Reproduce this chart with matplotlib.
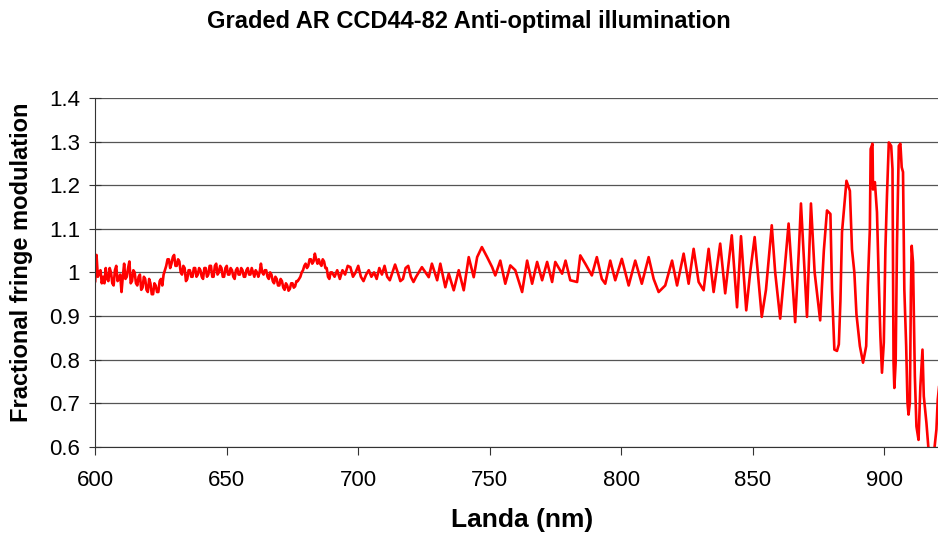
import matplotlib
matplotlib.use("Agg")
import matplotlib.pyplot as plt
import numpy as np

plt.rcParams['font.family'] = ['Liberation Sans', 'DejaVu Sans']

# noisy flat part, sampled every 0.5 nm from 600 to 689.5 nm
landa_flat = np.arange(600, 690, 0.5)
mod_flat = [0.98, 1.04, 0.99, 1.0, 1.005, 0.975, 0.99, 0.975, 1.01, 0.985,
            0.98, 1.01, 1.0, 0.975, 0.97, 1.005, 1.015, 0.98, 0.985, 0.995,
            0.955, 0.99, 1.02, 0.985, 0.99, 1.01, 1.025, 0.975, 0.98, 1.005,
            1.0, 0.975, 0.97, 0.99, 0.995, 0.96, 0.965, 0.99, 0.985, 0.96,
            0.955, 0.985, 0.975, 0.95, 0.95, 0.975, 0.97, 0.955, 0.955, 0.98,
            0.985, 0.97, 0.995, 1.005, 1.015, 1.03, 1.03, 1.01, 1.02, 1.035,
            1.04, 1.015, 1.015, 1.03, 1.025, 1.0, 0.995, 1.015, 1.01, 0.98,
            0.985, 1.005, 1.005, 0.99, 0.99, 1.01, 1.01, 0.99, 0.995, 1.01,
            1.005, 0.99, 0.985, 1.01, 1.01, 0.99, 0.995, 1.015, 1.015, 0.99,
            0.99, 1.015, 1.02, 0.995, 1.0, 1.015, 1.01, 0.99, 0.99, 1.01,
            1.015, 0.995, 0.995, 1.01, 1.005, 0.99, 0.985, 1.005, 1.01, 0.995,
            0.995, 1.01, 1.005, 0.99, 0.99, 1.005, 1.01, 0.995, 0.995, 1.01,
            1.0, 0.99, 1.005, 1.0, 0.99, 1.0, 1.02, 1.0, 0.995, 1.005,
            1.005, 0.99, 0.985, 1.0, 0.995, 0.98, 0.975, 0.99, 0.985, 0.97,
            0.97, 0.985, 0.98, 0.965, 0.96, 0.975, 0.97, 0.958, 0.962, 0.975,
            0.975, 0.965, 0.968, 0.98, 0.98, 0.985, 0.99, 1.0, 1.005, 1.015,
            1.02, 1.01, 1.015, 1.03, 1.03, 1.02, 1.025, 1.043, 1.03, 1.02,
            1.03, 1.02, 1.015, 1.03, 1.025, 1.01, 1.01, 0.99, 0.985, 1.0]

# fringe part, 690 nm onwards (peaks and troughs)
landa_fringe = [690, 691, 692, 693, 694, 695, 696, 697, 698, 699, 700, 701, 702, 703,
                704, 705, 706, 707, 708, 709, 710, 711, 712, 713, 714, 715, 716, 717,
                718, 719, 720, 721, 722,
                724.2, 726.8, 728, 730, 731.2, 733.1, 734.4, 736.3, 738.2, 740.1, 742,
                743.9, 745.2, 747, 749, 750.9, 752.1, 754, 755.9, 757.8, 759.7, 762.3,
                764.2, 766.1, 768, 769.9, 771.8, 773.7, 774.9, 777.5, 778.8, 780.6, 783.2,
                784.4, 786.3, 788.8, 790.7, 792.6, 793.9, 795.8, 797.7, 800.2, 802.8,
                805.3, 807.8, 810.4, 812.3, 814.2, 816.7, 819.3, 821.2, 823.7, 825.6,
                827.5, 829.4, 831.3, 833.2, 835.1, 837.6, 839.5, 842, 844, 845.5, 847.5,
                849, 850.7, 853.4, 855, 857.2, 858.5, 860.4, 862, 863.6, 866.1, 867.5,
                868.3, 870.6, 872.1, 873.5, 875.6, 877, 878.2, 879.5, 880.1, 881, 882,
                882.7, 883.3, 883.9, 884.8, 885.6, 886.9, 887.7, 888.6, 889.4, 890.7,
                891.9, 893.1, 893.7, 894.5, 894.8, 895.5, 895.7, 896.4, 897.2, 897.9,
                898.5, 899.1, 899.8, 900.4, 901, 901.7, 902.6, 903.1, 903.5, 903.8,
                904.3, 904.8, 905.5, 906.1, 906.6, 907.1, 907.6, 908.3, 908.8, 909.2,
                909.7, 910.1, 910.4, 910.9, 911.6, 912.2, 913, 913.7, 914.5, 915, 916,
                916.8, 917.3, 919, 919.8, 920.3, 921]
mod_fringe = [1.0, 0.99, 1.005, 0.985, 1.005, 0.995, 1.015, 1.012, 0.99, 1.0, 1.015, 0.99,
              0.98, 0.995, 1.005, 0.99, 1.0, 0.985, 1.01, 0.995, 1.015, 0.99, 0.982, 1.0,
              1.018, 1.0, 0.98, 0.985, 1.01, 1.015, 0.99, 0.978, 0.99,
              1.012, 0.989, 1.02, 0.982, 1.02, 0.966, 0.997, 0.959, 1.005, 0.959, 1.035,
              0.989, 1.035, 1.058, 1.035, 1.012, 0.993, 1.027, 0.974, 1.016, 1.005, 0.955,
              1.027, 0.974, 1.024, 0.982, 1.024, 0.978, 1.024, 0.997, 1.027, 0.982, 0.978,
              1.039, 1.02, 0.993, 1.035, 0.985, 0.974, 1.027, 0.982, 1.031, 0.970,
              1.027, 0.974, 1.035, 0.985, 0.955, 0.970, 1.027, 0.970, 1.043, 0.974,
              1.054, 0.978, 0.959, 1.054, 0.955, 1.066, 0.952, 1.085, 0.92, 1.083, 0.913,
              1.0, 1.081, 0.898, 0.96, 1.108, 1.0, 0.894, 1.0, 1.112, 0.886, 1.05,
              1.158, 0.898, 1.158, 1.0, 0.89, 1.05, 1.142, 1.134, 0.961, 0.823, 0.82,
              0.835, 0.934, 1.092, 1.153, 1.21, 1.187, 1.053, 1.0, 0.904, 0.831,
              0.793, 0.831, 0.969, 1.1, 1.283, 1.295, 1.19, 1.207, 1.138, 0.977,
              0.854, 0.77, 0.839, 1.053, 1.176, 1.298, 1.29, 1.237, 0.793, 0.735,
              0.793, 1.061, 1.29, 1.295, 1.241, 1.23, 0.961, 0.831, 0.701, 0.674,
              0.701, 0.954, 1.061, 1.023, 0.762, 0.647, 0.616, 0.739, 0.823, 0.716, 0.655,
              0.594, 0.56, 0.594, 0.64, 0.708, 0.75]

landa = list(landa_flat) + landa_fringe
modulation = mod_flat + mod_fringe

fig = plt.figure(figsize=(9.38, 5.41), dpi=100)
ax = fig.add_axes([0.1015, 0.174, 0.8985, 0.645])

ax.plot(landa, modulation, color='#ff0000', linewidth=1.9)

ax.set_xlim(600, 920.4)
ax.set_ylim(0.6, 1.4)
ax.set_xticks([600, 650, 700, 750, 800, 850, 900])
ax.set_yticks([0.6, 0.7, 0.8, 0.9, 1.0, 1.1, 1.2, 1.3, 1.4])
ax.set_yticklabels(['0.6', '0.7', '0.8', '0.9', '1', '1.1', '1.2', '1.3', '1.4'])
ax.grid(axis='y', color='#555555', linewidth=0.9)
ax.set_axisbelow(True)
for s in ['top', 'right']:
    ax.spines[s].set_visible(False)
ax.spines['left'].set_color('#333333')
ax.spines['bottom'].set_color('#333333')
ax.tick_params(labelsize=16, color='#333333')
ax.tick_params(axis='y', direction='inout', length=8, pad=7)
ax.tick_params(axis='x', direction='out', length=6, pad=11)

ax.set_xlabel('Landa (nm)', fontsize=19, fontweight='bold', labelpad=13)
ax.xaxis.set_label_coords(0.507, -0.175)
ax.set_ylabel('Fractional fringe modulation', fontsize=17, fontweight='bold')
ax.yaxis.set_label_coords(-0.074, 0.53)
fig.text(0.5, 0.96, 'Graded AR CCD44-82 Anti-optimal illumination', ha='center', va='center',
         fontsize=17, fontweight='bold')

fig.savefig('out.png', dpi=100)
